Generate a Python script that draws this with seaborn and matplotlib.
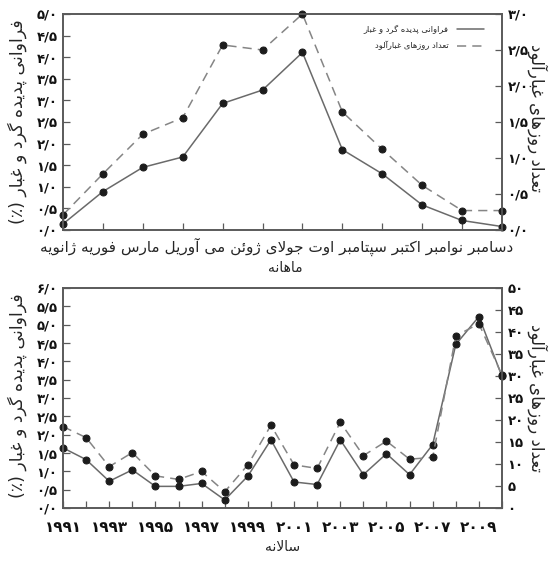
import matplotlib
matplotlib.use("Agg")
import matplotlib.pyplot as plt
import seaborn as sns
from matplotlib.lines import Line2D

# داده ها
months = ["ژانویه", "فوریه", "مارس", "آوریل", "می", "ژوئن",
          "جولای", "اوت", "سپتامبر", "اکتبر", "نوامبر", "دسامبر"]
monthly_freq = [0.14, 0.89, 1.45, 1.69, 2.93, 3.24, 4.11, 1.86, 1.30, 0.58, 0.22, 0.08]
monthly_days = [0.21, 0.78, 1.33, 1.56, 2.57, 2.50, 3.00, 1.64, 1.12, 0.62, 0.27, 0.27]

years = [1991, 1992, 1993, 1994, 1995, 1996, 1997, 1998, 1999, 2000,
         2001, 2002, 2003, 2004, 2005, 2006, 2007, 2008, 2009, 2010]
yearly_freq = [1.64, 1.32, 0.73, 1.04, 0.59, 0.59, 0.67, 0.22, 0.87, 1.86,
               0.71, 0.64, 1.86, 0.91, 1.48, 0.91, 1.73, 4.46, 5.22, 3.59]
yearly_days = [18.5, 16.0, 9.4, 12.6, 7.3, 6.5, 8.3, 3.7, 9.8, 18.8,
               9.8, 9.0, 19.5, 11.9, 15.2, 11.1, 11.5, 39.1, 41.9, 30.2]

freq_label = "فراوانی پدیده گرد و غبار"
days_label = "تعداد روزهای غبارآلود"
monthly_title = "ماهانه"
yearly_title = "سالانه"

# --- شکل دهی حروف فارسی (matplotlib خودش انجام نمی دهد)
D, R = "D", "R"
FORMS = {
    "ا": (R, 0xFE8D), "آ": (R, 0xFE81), "ب": (D, 0xFE8F), "ت": (D, 0xFE95),
    "ج": (D, 0xFE9D), "د": (R, 0xFEA9), "ر": (R, 0xFEAD), "ز": (R, 0xFEAF),
    "س": (D, 0xFEB1), "ع": (D, 0xFEC9), "غ": (D, 0xFECD), "ف": (D, 0xFED1),
    "ل": (D, 0xFEDD), "م": (D, 0xFEE1), "ن": (D, 0xFEE5), "ه": (D, 0xFEE9),
    "و": (R, 0xFEED), "ی": (D, 0xFBFC), "پ": (D, 0xFB56), "ژ": (R, 0xFB8A),
    "ک": (D, 0xFB8E), "گ": (D, 0xFB92), "ئ": (D, 0xFE89),
}
LAM_ALEF = {"ا": 0xFEFB, "آ": 0xFEF5}


def shape(text):
    out = []
    i = 0
    n = len(text)
    while i < n:
        ch = text[i]
        if ch not in FORMS:
            out.append(ch)
            i += 1
            continue
        prev = text[i - 1] if i > 0 else ""
        prev_j = prev in FORMS and FORMS[prev][0] == D
        if ch == "ل" and i + 1 < n and text[i + 1] in LAM_ALEF:
            out.append(chr(LAM_ALEF[text[i + 1]] + (1 if prev_j else 0)))
            i += 2
            continue
        kind, base = FORMS[ch]
        nxt = text[i + 1] if i + 1 < n else ""
        next_j = kind == D and nxt in FORMS
        if prev_j and next_j:
            out.append(chr(base + 3))
        elif prev_j:
            out.append(chr(base + 1))
        elif next_j:
            out.append(chr(base + 2))
        else:
            out.append(chr(base))
        i += 1
    return "".join(out[::-1])


def fa_num(s):
    return s.translate(str.maketrans("0123456789.", "۰۱۲۳۴۵۶۷۸۹/"))


sns.set_theme(style="ticks")
plt.rcParams["font.family"] = ["DejaVu Sans"]

spine_c = "#5a5a5a"
solid_c = "#6a6a6a"
dash_c = "#858585"
mark_c = "#1c1c1c"
line_kw = dict(marker="o", markersize=5, markerfacecolor=mark_c,
               markeredgecolor=mark_c, lw=1.1, clip_on=False)

W, H = 555, 565
fig = plt.figure(figsize=(W / 100, H / 100), dpi=100)
ax1 = fig.add_axes([63 / W, 1 - 230 / H, 439 / W, 216 / H])
ax3 = fig.add_axes([63 / W, 1 - 508 / H, 439 / W, 220 / H])

# ---------- ماهانه
sns.lineplot(x=list(range(len(months))), y=monthly_freq, ax=ax1, color=solid_c, **line_kw)
ax2 = ax1.twinx()
sns.lineplot(x=list(range(len(months))), y=monthly_days, ax=ax2, color=dash_c,
             linestyle=(0, (6, 4)), **line_kw)
ax1.set_xlim(0, len(months) - 1)
ax1.set_xticks(range(len(months)))
ax1.set_xticklabels([])
ax1.set_ylim(0, 5)
t1 = [i * 0.5 for i in range(11)]
ax1.set_yticks(t1)
ax1.set_yticklabels([fa_num(f"{v:.1f}") for v in t1])
ax2.set_ylim(0, 3)
t2 = [i * 0.5 for i in range(7)]
ax2.set_yticks(t2)
ax2.set_yticklabels([fa_num(f"{v:.1f}") for v in t2])

# برچسب ماه ها: یک سطر راست به چپ، ژانویه سمت چپ
fig.text(277 / W, 1 - 247 / H, " ".join(shape(m) for m in months),
         ha="center", va="center", fontsize=11)
fig.text(285 / W, 1 - 268 / H, shape(monthly_title), ha="center", va="center", fontsize=10)

handles = [Line2D([], [], color=solid_c, lw=1.1),
           Line2D([], [], color=dash_c, lw=1.1, linestyle=(0, (6, 4)))]
ax2.legend(handles, [shape(freq_label), shape(days_label)], loc="upper right",
           bbox_to_anchor=(0.975, 0.985), frameon=False, markerfirst=False,
           fontsize=6, handlelength=3.2, labelspacing=0.9, handletextpad=1.0)

# ---------- سالانه
sns.lineplot(x=years, y=yearly_freq, ax=ax3, color=solid_c, **line_kw)
ax4 = ax3.twinx()
sns.lineplot(x=years, y=yearly_days, ax=ax4, color=dash_c,
             linestyle=(0, (6, 4)), **line_kw)
ax3.set_xlim(years[0], years[-1])
ax3.set_xticks(years[::2])
ax3.set_xticks(years[1::2], minor=True)
ax3.set_xticklabels([fa_num(str(y)) for y in years[::2]])
ax3.set_ylim(0, 6)
t3 = [i * 0.5 for i in range(13)]
ax3.set_yticks(t3)
ax3.set_yticklabels([fa_num(f"{v:.1f}") for v in t3])
ax4.set_ylim(0, 50)
t4 = list(range(0, 51, 5))
ax4.set_yticks(t4)
ax4.set_yticklabels([fa_num(str(v)) for v in t4])
fig.text(283 / W, 1 - 547 / H, shape(yearly_title), ha="center", va="center", fontsize=10)

for ax in (ax1, ax2, ax3, ax4):
    ax.set_xlabel("")
    ax.set_ylabel("")
    for sp in ax.spines.values():
        sp.set_color(spine_c)
        sp.set_linewidth(1.2)
    ax.tick_params(which="both", direction="in", length=5, width=0.9,
                   color=spine_c, labelsize=9.5, pad=4, labelcolor="#111111")
    for lab in ax.get_yticklabels():
        lab.set_fontweight("bold")
ax3.tick_params(axis="x", labelsize=11, pad=9)
for lab in ax3.get_xticklabels():
    lab.set_fontweight("bold")

# عنوان محورها
yl = shape(freq_label)
yr = shape(days_label)
fig.text(17 / W, 1 - 122 / H, "(٪) " + yl, rotation=90, ha="center", va="center", fontsize=12.5)
fig.text(537 / W, 1 - 118 / H, yr, rotation=-90, ha="center", va="center", fontsize=12)
fig.text(17 / W, 1 - 396 / H, "(٪) " + yl, rotation=90, ha="center", va="center", fontsize=12.5)
fig.text(537 / W, 1 - 398 / H, yr, rotation=-90, ha="center", va="center", fontsize=12)

fig.savefig("out.png", dpi=100)
